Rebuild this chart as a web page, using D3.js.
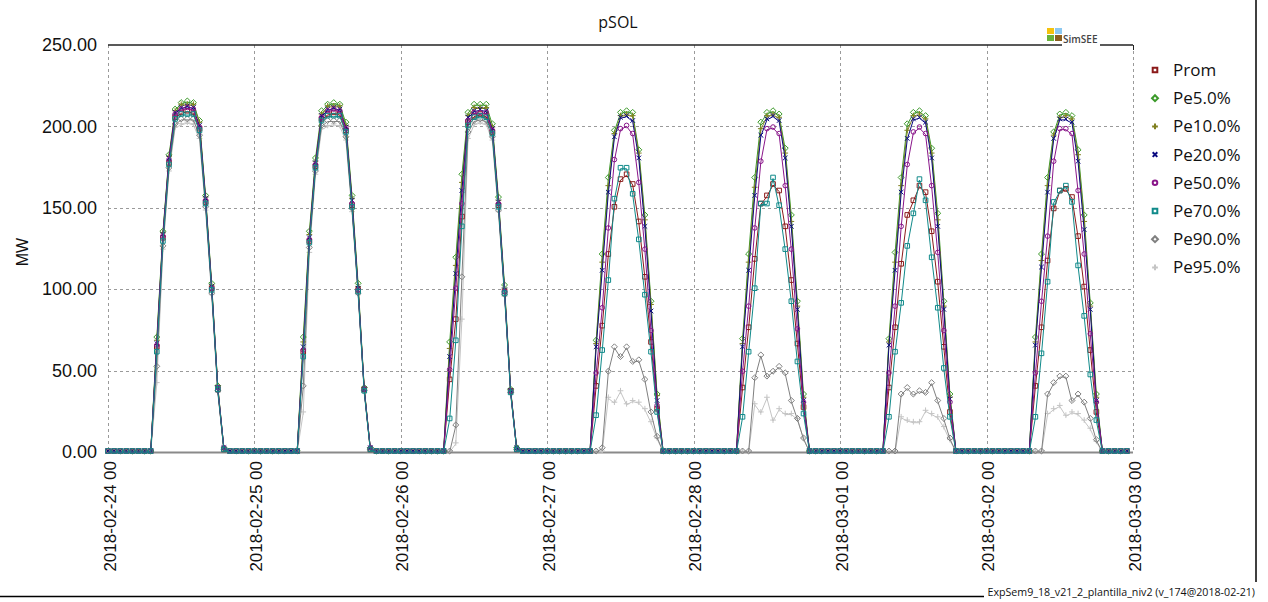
<!DOCTYPE html>
<html><head><meta charset="utf-8">
<script src="https://cdn.jsdelivr.net/npm/d3@7"></script>
<style>body{margin:0;background:#fff} svg{display:block}</style>
</head><body>
<svg id="c" width="1268" height="602"></svg>
<script>
// ---- data ----
const chartTitle = "pSOL";
const yLabel = "MW";
const footerText = "ExpSem9_18_v21_2_plantilla_niv2 (v_174@2018-02-21)";
const seriesNames = ["Prom","Pe5.0%","Pe10.0%","Pe20.0%","Pe50.0%","Pe70.0%","Pe90.0%","Pe95.0%"];
const seriesColors = ["#8b1a1a","#3c9a2a","#808020","#0a0a80","#8a168a","#108a8a","#808080","#c4c4c4"];
const markerTypes = ["square","diamond","plus","cross","circle","square","diamond","plus"];
const dayLabels = ["2018-02-24 00","2018-02-25 00","2018-02-26 00","2018-02-27 00","2018-02-28 00","2018-03-01 00","2018-03-02 00","2018-03-03 00"];
const yTicks = [0,50,100,150,200,250];
const hoursPerDay = 24;
const nDays = 7;
// daylight hours (all other hours are 0)
const daylightHours = [7,8,9,10,11,12,13,14,15,16,17,18,19];

const prom = [
  [0,64,131,177,205,208,209,208,198,153,100,38,1],
  [0,61,129,175,204,207,208,207,197,151,99,38,1],
  [0,44,81,144,202,206,207,206,196,151,98,37,1],
  [0,40,77,121,150,167,170,164,141,107,67,26,0],
  [0,39,76,118,152,157,164,160,138,105,66,27,0],
  [0,39,76,115,145,154,163,159,135,104,64,24,0],
  [0,40,76,117,149,160,161,156,132,101,62,24,0]
];
const pe5 = [
  [0,70,135,182,210,214,215,214,203,157,103,40,2],
  [0,70,135,180,209,213,214,213,202,157,103,39,2],
  [0,67,119,170,208,213,213,213,201,156,102,38,2],
  [0,68,121,168,197,208,209,208,185,145,92,35,0],
  [0,69,121,168,202,208,209,207,186,145,92,35,0],
  [0,69,122,168,201,208,209,206,186,146,92,35,0],
  [0,70,121,168,196,207,208,206,185,145,91,35,0]
];
const pe10 = [
  [0,68,134,181,209,213,213,213,202,156,102,40,2],
  [0,67,133,178,207,212,212,212,200,155,101,39,2],
  [0,63,114,165,206,211,211,211,199,154,100,38,2],
  [0,66,116,163,195,206,207,206,183,142,90,34,0],
  [0,66,116,162,198,206,207,205,183,141,89,33,0],
  [0,67,116,163,197,206,207,204,183,142,89,33,0],
  [0,67,117,163,194,205,206,204,182,141,89,33,0]
];
const pe20 = [
  [0,66,133,180,208,211,212,211,200,155,101,39,2],
  [0,64,131,177,206,210,211,210,199,154,100,38,2],
  [0,58,109,160,205,209,210,209,198,153,99,37,2],
  [0,64,111,159,193,205,206,203,180,138,86,31,0],
  [0,64,111,157,194,204,206,203,180,138,87,31,0],
  [0,65,111,159,192,204,205,202,180,138,87,32,0],
  [0,65,113,159,192,204,204,202,178,136,87,31,0]
];
const pe50 = [
  [0,65,132,179,207,210,211,210,199,154,100,39,2],
  [0,62,130,176,205,209,210,209,198,152,99,38,2],
  [0,50,100,152,203,208,208,208,197,152,98,37,1],
  [0,48,88,137,179,198,200,195,165,124,74,28,0],
  [0,49,89,137,178,198,199,195,163,124,75,30,0],
  [0,48,89,138,176,196,199,195,163,122,74,30,0],
  [0,48,92,132,178,198,198,195,160,121,72,30,0]
];
const pe70 = [
  [0,61,129,176,204,207,207,207,197,152,99,38,1],
  [0,58,128,174,203,206,206,206,196,150,98,37,1],
  [0,20,68,138,200,205,206,205,195,150,97,36,1],
  [0,22,62,105,155,174,174,158,130,96,61,24,0],
  [0,21,61,100,152,152,168,151,124,92,55,23,0],
  [0,21,61,91,126,146,167,154,119,88,51,21,0],
  [0,21,60,104,153,160,163,153,114,83,47,19,0]
];
const pe90 = [
  [0,52,126,174,201,204,204,204,194,150,97,37,1],
  [0,40,125,172,200,203,203,203,193,149,97,37,1],
  [0,0,16,107,196,203,204,203,193,148,96,36,1],
  [0,0,2,49,64,58,64,55,56,44,24,9,0],
  [0,0,0,45,59,46,49,52,48,31,20,8,0],
  [0,0,0,35,39,35,37,36,42,31,20,8,0],
  [0,0,0,35,42,46,46,31,35,30,20,7,0]
];
const pe95 = [
  [0,42,124,172,199,201,202,201,192,148,96,36,1],
  [0,24,122,170,198,200,201,200,191,147,96,36,1],
  [0,0,5,81,192,201,202,201,191,147,95,35,1],
  [0,0,0,33,30,37,29,31,30,26,18,8,0],
  [0,0,0,29,24,33,19,26,23,23,20,8,0],
  [0,0,0,21,19,18,18,25,23,21,15,7,0],
  [0,0,0,23,26,28,22,24,23,19,14,6,0]
];
const seriesData = [prom, pe5, pe10, pe20, pe50, pe70, pe90, pe95];
// draw order (last on top)
const drawOrder = [7,6,0,1,2,3,4,5];

// ---- build hourly table ----
function hourly(days) {
  const out = [];
  for (let d = 0; d < nDays; d++) {
    for (let h = 0; h < hoursPerDay; h++) {
      const i = daylightHours.indexOf(h);
      out.push({t: d * hoursPerDay + h, v: i >= 0 ? days[d][i] : 0});
    }
  }
  return out;
}
const series = seriesNames.map((n, i) => ({name: n, color: seriesColors[i], mk: markerTypes[i], values: hourly(seriesData[i])}));

// ---- layout ----
const L = 108, R = 1133, T = 45, B = 452;
const svg = d3.select("#c");
const x = d3.scaleLinear().domain([0, nDays * hoursPerDay]).range([L, R]);
const y = d3.scaleLinear().domain([0, 250]).range([B, T]);
const tickFont = "'Liberation Sans', Arial, sans-serif";
const uiFont = "'Open Sans', 'Noto Sans', sans-serif";

// frame
svg.append("line").attr("x1", 1256).attr("x2", 1256).attr("y1", 0).attr("y2", 582).attr("stroke", "#000").attr("stroke-width", 1.5);
svg.append("line").attr("x1", 0).attr("x2", 984).attr("y1", 596.5).attr("y2", 596.5).attr("stroke", "#000").attr("stroke-width", 1.5);
const footer = svg.append("text").attr("x", 1255).attr("y", 596).attr("text-anchor", "end")
  .attr("font-family", uiFont).attr("font-size", 12).attr("fill", "#111").text(footerText);
{ // fit footer text into the space right of the bottom frame line
  const w = footer.node().getComputedTextLength();
  if (w > 268) footer.attr("font-size", 12 * 268 / w);
}

// grid
const grid = svg.append("g").attr("stroke", "#9a9a9a").attr("stroke-width", 1).attr("stroke-dasharray", "3,3");
grid.selectAll("line.v").data(d3.range(nDays + 1)).join("line")
  .attr("x1", d => Math.round(x(d * hoursPerDay)) + 0.5).attr("x2", d => Math.round(x(d * hoursPerDay)) + 0.5)
  .attr("y1", T).attr("y2", B);
grid.selectAll("line.h").data(yTicks.filter(v => v > 0 && v < 250)).join("line")
  .attr("x1", L).attr("x2", R)
  .attr("y1", d => Math.round(y(d)) + 0.5).attr("y2", d => Math.round(y(d)) + 0.5);

// top border and bottom axis line
svg.append("line").attr("x1", L).attr("x2", R).attr("y1", T).attr("y2", T).attr("stroke", "#222").attr("stroke-width", 1.5);
svg.append("line").attr("x1", R + 0.5).attr("x2", R + 0.5).attr("y1", T).attr("y2", T + 5).attr("stroke", "#222").attr("stroke-width", 1);
svg.append("line").attr("x1", L).attr("x2", R).attr("y1", B + 0.5).attr("y2", B + 0.5).attr("stroke", "#8a8a8a").attr("stroke-width", 2);

// y axis
const yAxis = svg.append("g").attr("transform", `translate(${L},0)`)
  .call(d3.axisLeft(y).tickValues(yTicks).tickFormat(d3.format(".2f")).tickSize(0).tickPadding(11));
yAxis.select(".domain").remove();
yAxis.selectAll("text").attr("font-family", tickFont).attr("font-size", 18).attr("fill", "#111");

// x axis
const xAxis = svg.append("g").attr("transform", `translate(0,${B})`)
  .call(d3.axisBottom(x).tickValues(d3.range(nDays + 1).map(d => d * hoursPerDay)).tickFormat((d, i) => dayLabels[i]).tickSize(0));
xAxis.select(".domain").remove();
xAxis.selectAll("text").attr("font-family", tickFont).attr("font-size", 17).attr("fill", "#111")
  .attr("text-anchor", "end").attr("transform", "rotate(-90)").attr("x", -9).attr("y", 1).attr("dy", "0.36em");

// title & y label
svg.append("text").attr("x", 618).attr("y", 28).attr("text-anchor", "middle").attr("font-family", uiFont).attr("font-size", 16).attr("fill", "#111").text(chartTitle);
svg.append("text").attr("transform", "translate(28,252) rotate(-90)").attr("text-anchor", "middle").attr("font-family", tickFont).attr("font-size", 16).attr("fill", "#111").text(yLabel);

// logo
const logo = svg.append("g");
logo.append("rect").attr("x", 1062).attr("y", 33).attr("width", 38).attr("height", 14).attr("fill", "#fff");
logo.append("rect").attr("x", 1047).attr("y", 28).attr("width", 7).attr("height", 6).attr("fill", "#f4c20d");
logo.append("rect").attr("x", 1055).attr("y", 28).attr("width", 7).attr("height", 6).attr("fill", "#8cc8f0");
logo.append("rect").attr("x", 1047).attr("y", 35).attr("width", 7).attr("height", 6).attr("fill", "#6ab23a");
logo.append("rect").attr("x", 1055).attr("y", 35).attr("width", 7).attr("height", 6).attr("fill", "#8b5e1e");
logo.append("text").attr("x", 1063).attr("y", 43).attr("font-family", uiFont).attr("font-size", 10).attr("font-weight", 600).attr("fill", "#444").text("SimSEE");

// markers
function markerPath(type, s) {
  switch (type) {
    case "square": return `M${-s},${-s}h${2*s}v${2*s}h${-2*s}z`;
    case "diamond": { const r = s * 1.3; return `M0,${-r}L${r},0L0,${r}L${-r},0z`; }
    case "plus": { const r = s * 1.25; return `M${-r},0H${r}M0,${-r}V${r}`; }
    case "cross": return `M${-s},${-s}L${s},${s}M${-s},${s}L${s},${-s}`;
    case "circle": return `M${s},0A${s},${s} 0 1,1 ${-s},0A${s},${s} 0 1,1 ${s},0z`;
  }
}

// series
const line = d3.line().x(d => x(d.t)).y(d => y(d.v));
const plot = svg.append("g");
drawOrder.forEach(i => {
  const s = series[i];
  const g = plot.append("g");
  g.append("path").attr("d", line(s.values)).attr("fill", "none").attr("stroke", s.color).attr("stroke-width", 1);
  g.selectAll("path.m").data(s.values).join("path").attr("class", "m")
    .attr("transform", d => `translate(${x(d.t)},${y(d.v) - 1})`)
    .attr("d", markerPath(s.mk, 2.3)).attr("fill", "none").attr("stroke", s.color).attr("stroke-width", 1);
});

// legend
const lg = svg.append("g");
const lgY0 = 70, lgDy = 28.2;
series.forEach((s, i) => {
  const yy = lgY0 + i * lgDy;
  lg.append("path").attr("transform", `translate(1155,${yy})`).attr("d", markerPath(s.mk, 2.3))
    .attr("fill", "none").attr("stroke", s.color).attr("stroke-width", 2);
  lg.append("text").attr("x", 1173).attr("y", yy).attr("dy", "0.35em").attr("font-family", uiFont)
    .attr("font-size", 17).attr("fill", "#111").text(s.name);
});
</script>
</body></html>
